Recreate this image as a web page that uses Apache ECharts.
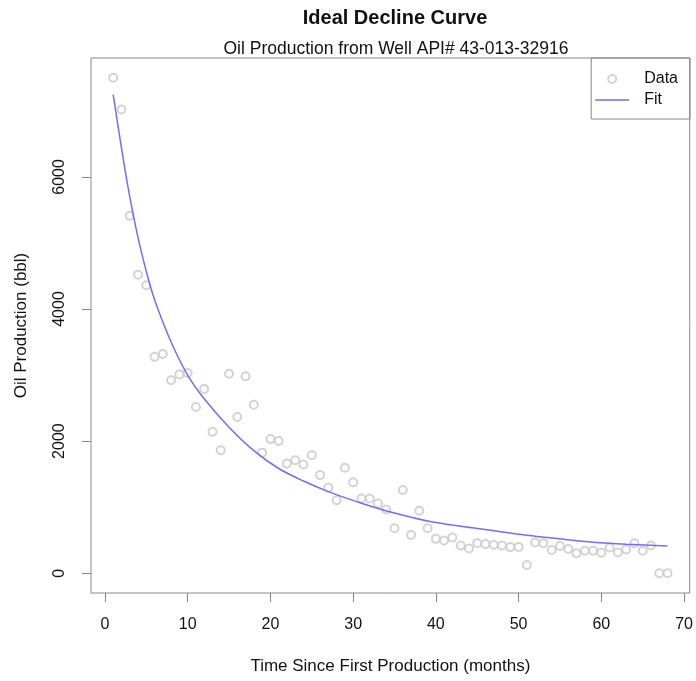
<!DOCTYPE html>
<html>
<head>
<meta charset="utf-8">
<script src="https://cdn.jsdelivr.net/npm/echarts@6/dist/echarts.min.js"></script>
<style>
  html, body { margin: 0; padding: 0; background: #fff; }
  #chart { width: 696px; height: 681px; }
</style>
</head>
<body>
<div id="chart"></div>
<script>
// Months since first production
const months = [1,2,3,4,5,6,7,8,9,10,11,12,13,14,15,16,17,18,19,20,
  21,22,23,24,25,26,27,28,29,30,31,32,33,34,35,36,37,38,39,40,
  41,42,43,44,45,46,47,48,49,50,51,52,53,54,55,56,57,58,59,60,
  61,62,63,64,65,66,67,68];
// Observed oil production (bbl)
const production = [7500,7020,5410,4520,4360,3275,3320,2920,3010,3030,
  2515,2790,2140,1860,3020,2365,2980,2550,1825,2030,
  2000,1660,1710,1645,1785,1485,1295,1105,1595,1375,
  1130,1130,1055,965,680,1260,580,945,680,520,
  495,540,420,375,455,440,430,420,395,395,
  125,465,455,350,410,365,300,340,340,310,
  390,315,360,455,340,420,0,0];
// Fitted decline curve
const fitMonths = [1,2,3,4,5,6,8,10,12,15,18,21,24,27,31,35,39,43,47,51,55,59,63,68];
const fitValues = [7245,6440,5700,5080,4570,4140,3500,3000,2640,2210,1855,1585,1395,1235,1060,910,790,710,644,575,520,470,438,412];
// Tick labels
const xTicks = [0,10,20,30,40,50,60,70];
const yTicks = [0,2000,4000,6000];

const FONT = "'Liberation Sans', Arial, sans-serif";
const chart = echarts.init(document.getElementById('chart'), null, {renderer: 'canvas'});

const option = {
  animation: false,
  backgroundColor: '#ffffff',
  textStyle: { fontFamily: FONT },
  title: [
    { text: 'Ideal Decline Curve', left: 390, textAlign: 'center', top: 3,
      textStyle: { fontFamily: FONT, fontSize: 20, fontWeight: 'bold', color: '#111' } },
    { text: 'Oil Production from Well API# 43-013-32916', left: 391, textAlign: 'center', top: 35,
      textStyle: { fontFamily: FONT, fontSize: 17.5, fontWeight: 'normal', color: '#111' } }
  ],
  legend: {
    orient: 'vertical',
    right: 6, top: 58,
    data: [
      { name: 'Data' },
      { name: 'Fit', icon: 'path://M0,0H34V1.5H0Z' }
    ],
    itemWidth: 34, itemHeight: 8, itemGap: 5,
    symbolKeepAspect: true,
    padding: [13, 12, 11, 4],
    borderColor: '#888', borderWidth: 1,
    textStyle: { fontFamily: FONT, fontSize: 16, color: '#111', padding: [0, 0, 0, 10] }
  },
  grid: {
    left: 91, right: 6, top: 58, bottom: 88,
    show: true, borderColor: '#888', borderWidth: 1, backgroundColor: 'transparent',
    containLabel: false
  },
  xAxis: {
    type: 'value', min: -1.68, max: 70.68,
    name: 'Time Since First Production (months)',
    nameLocation: 'middle', nameGap: 65,
    nameTextStyle: { fontFamily: FONT, fontSize: 17, color: '#111' },
    axisLine: { show: false, onZero: false },
    splitLine: { show: false },
    axisTick: { show: true, length: 9, lineStyle: { color: '#888' }, customValues: xTicks },
    axisLabel: { show: true, margin: 24, fontFamily: FONT, fontSize: 16, color: '#111',
      customValues: xTicks, formatter: v => String(v) }
  },
  yAxis: {
    type: 'value', min: -300, max: 7800,
    name: 'Oil Production (bbl)',
    nameLocation: 'middle', nameGap: 61, nameRotate: 90,
    nameTextStyle: { fontFamily: FONT, fontSize: 17, color: '#111' },
    axisLine: { show: false, onZero: false },
    splitLine: { show: false },
    axisTick: { show: true, length: 9, lineStyle: { color: '#888' }, customValues: yTicks },
    axisLabel: { show: true, rotate: 90, margin: 23, fontFamily: FONT, fontSize: 16, color: '#111',
      customValues: yTicks, formatter: v => String(v) }
  },
  series: [
    {
      name: 'Data', type: 'scatter',
      symbol: 'emptyCircle', symbolSize: 8,
      itemStyle: { color: '#c8c8c8', borderColor: '#c8c8c8', borderWidth: 1.2 },
      data: months.map((m, i) => [m, production[i]])
    },
    {
      name: 'Fit', type: 'line',
      smooth: 0.3, showSymbol: false, symbol: 'none',
      lineStyle: { color: '#6e6eff', width: 1.5 },
      itemStyle: { color: '#6e6eff' },
      data: fitMonths.map((m, i) => [m, fitValues[i]])
    }
  ]
};
chart.setOption(option);
</script>
</body>
</html>
